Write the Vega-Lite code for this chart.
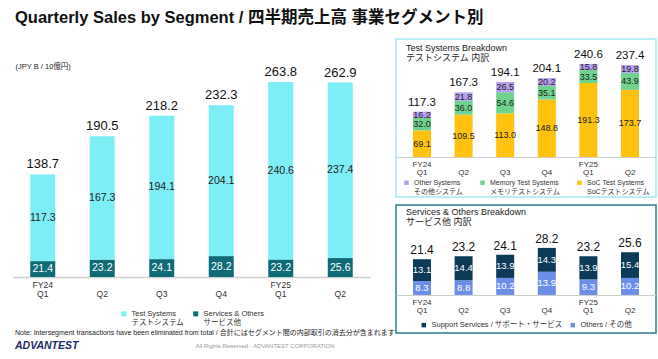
{
  "$schema": "https://vega.github.io/schema/vega-lite/v6.json",
  "padding": {"left": 13, "top": 9, "right": 2, "bottom": 2},
  "title": {"text": "Quarterly Sales by Segment / 四半期売上高 事業セグメント別", "anchor": "start", "fontSize": 16.5, "fontWeight": "bold", "color": "#111111", "offset": 12, "dx": 2},
  "datasets": {
    "main": [
      {"period": "FY24 Q1", "segment": "Test Systems", "value": 117.3},
      {"period": "FY24 Q2", "segment": "Test Systems", "value": 167.3},
      {"period": "FY24 Q3", "segment": "Test Systems", "value": 194.1},
      {"period": "FY24 Q4", "segment": "Test Systems", "value": 204.1},
      {"period": "FY25 Q1", "segment": "Test Systems", "value": 240.6},
      {"period": "FY25 Q2", "segment": "Test Systems", "value": 237.4},
      {"period": "FY24 Q1", "segment": "Services & Others", "value": 21.4},
      {"period": "FY24 Q2", "segment": "Services & Others", "value": 23.2},
      {"period": "FY24 Q3", "segment": "Services & Others", "value": 24.1},
      {"period": "FY24 Q4", "segment": "Services & Others", "value": 28.2},
      {"period": "FY25 Q1", "segment": "Services & Others", "value": 23.2},
      {"period": "FY25 Q2", "segment": "Services & Others", "value": 25.6}
    ],
    "mainTotal": [
      {"period": "FY24 Q1", "total": 138.7},
      {"period": "FY24 Q2", "total": 190.5},
      {"period": "FY24 Q3", "total": 218.2},
      {"period": "FY24 Q4", "total": 232.3},
      {"period": "FY25 Q1", "total": 263.8},
      {"period": "FY25 Q2", "total": 262.9}
    ],
    "test": [
      {"period": "FY24 Q1", "segment": "SoC Test Systems", "value": 69.1},
      {"period": "FY24 Q2", "segment": "SoC Test Systems", "value": 109.5},
      {"period": "FY24 Q3", "segment": "SoC Test Systems", "value": 113.0},
      {"period": "FY24 Q4", "segment": "SoC Test Systems", "value": 148.8},
      {"period": "FY25 Q1", "segment": "SoC Test Systems", "value": 191.3},
      {"period": "FY25 Q2", "segment": "SoC Test Systems", "value": 173.7},
      {"period": "FY24 Q1", "segment": "Memory Test Systems", "value": 32.0},
      {"period": "FY24 Q2", "segment": "Memory Test Systems", "value": 36.0},
      {"period": "FY24 Q3", "segment": "Memory Test Systems", "value": 54.6},
      {"period": "FY24 Q4", "segment": "Memory Test Systems", "value": 35.1},
      {"period": "FY25 Q1", "segment": "Memory Test Systems", "value": 33.5},
      {"period": "FY25 Q2", "segment": "Memory Test Systems", "value": 43.9},
      {"period": "FY24 Q1", "segment": "Other Systems", "value": 16.2},
      {"period": "FY24 Q2", "segment": "Other Systems", "value": 21.8},
      {"period": "FY24 Q3", "segment": "Other Systems", "value": 26.5},
      {"period": "FY24 Q4", "segment": "Other Systems", "value": 20.2},
      {"period": "FY25 Q1", "segment": "Other Systems", "value": 15.8},
      {"period": "FY25 Q2", "segment": "Other Systems", "value": 19.8}
    ],
    "svc": [
      {"period": "FY24 Q1", "segment": "Others / その他", "value": 8.3},
      {"period": "FY24 Q2", "segment": "Others / その他", "value": 8.8},
      {"period": "FY24 Q3", "segment": "Others / その他", "value": 10.2},
      {"period": "FY24 Q4", "segment": "Others / その他", "value": 13.9},
      {"period": "FY25 Q1", "segment": "Others / その他", "value": 9.3},
      {"period": "FY25 Q2", "segment": "Others / その他", "value": 10.2},
      {"period": "FY24 Q1", "segment": "Support Services / サポート・サービス", "value": 13.1},
      {"period": "FY24 Q2", "segment": "Support Services / サポート・サービス", "value": 14.4},
      {"period": "FY24 Q3", "segment": "Support Services / サポート・サービス", "value": 13.9},
      {"period": "FY24 Q4", "segment": "Support Services / サポート・サービス", "value": 14.3},
      {"period": "FY25 Q1", "segment": "Support Services / サポート・サービス", "value": 13.9},
      {"period": "FY25 Q2", "segment": "Support Services / サポート・サービス", "value": 15.4}
    ],
    "footer": [{"t": "All Rights Reserved - ADVANTEST CORPORATION"}]
  },
  "spacing": -6,
  "resolve": {"scale": {"color": "independent"}, "legend": {"color": "independent"}},
  "vconcat": [
    {
      "spacing": 25,
      "resolve": {"scale": {"color": "independent"}, "legend": {"color": "independent"}},
      "hconcat": [
        {
          "width": 357,
          "height": 238,
          "layer": [
            {
              "data": {"name": "main"},
              "transform": [
                {"calculate": "indexof(['Services & Others','Test Systems'], datum.segment)", "as": "rank"},
                {"stack": "value", "groupby": ["period"], "sort": [{"field": "rank", "order": "ascending"}], "as": ["v0", "v1"]},
                {"calculate": "(datum.v0 + datum.v1) / 2", "as": "mid"}
              ],
              "layer": [
                {
                  "mark": {"type": "bar"},
                  "encoding": {
                    "x": {"field": "period", "type": "nominal", "sort": ["FY24 Q1", "FY24 Q2", "FY24 Q3", "FY24 Q4", "FY25 Q1", "FY25 Q2"],
                      "scale": {"paddingInner": 0.58, "paddingOuter": 0.29},
                      "axis": {"title": null, "labelAngle": 0, "ticks": false, "domainColor": "#cfcfcf", "domainWidth": 1.5, "labelFontSize": 8.5, "labelColor": "#333333", "labelPadding": 3, "labelLineHeight": 9,
                        "labelExpr": "datum.value == 'FY24 Q1' ? ['FY24','Q1'] : datum.value == 'FY25 Q1' ? ['FY25','Q1'] : ['', slice(datum.value, 5)]"}},
                    "y": {"field": "v1", "type": "quantitative", "title": "(JPY B / 10億円)", "scale": {"domain": [0, 322], "nice": false},
                      "axis": {"title": "(JPY B / 10億円)", "labels": false, "ticks": false, "domain": false, "grid": false, "titleAngle": 0, "titleX": 2, "titleY": 27, "titleAlign": "left", "titleBaseline": "middle", "titleFontSize": 7.5, "titleFontWeight": "normal", "titleColor": "#222222"}},
                    "y2": {"field": "v0"},
                    "color": {"field": "segment", "type": "nominal",
                      "scale": {"domain": ["Test Systems", "Services & Others"], "range": ["#7DEEF6", "#0F6C77"]},
                      "legend": {"title": null, "orient": "bottom", "direction": "horizontal", "offset": 12, "symbolType": "square", "symbolSize": 25, "labelFont": "Liberation Sans Narrow, Liberation Sans, Noto Sans CJK JP, sans-serif", "labelFontSize": 7.5, "labelColor": "#333333", "columnPadding": 8, "labelLineHeight": 8,
                        "labelExpr": "datum.label == 'Test Systems' ? ['Test Systems','テストシステム'] : ['Services & Others','サービス他']"}}
                  }
                },
                {
                  "mark": {"type": "text", "fontSize": 10.5, "baseline": "middle"},
                  "encoding": {
                    "x": {"field": "period", "type": "nominal", "sort": ["FY24 Q1", "FY24 Q2", "FY24 Q3", "FY24 Q4", "FY25 Q1", "FY25 Q2"]},
                    "y": {"field": "mid", "type": "quantitative", "title": "(JPY B / 10億円)",
                      "axis": {"title": "(JPY B / 10億円)", "labels": false, "ticks": false, "domain": false, "grid": false, "titleAngle": 0, "titleX": 2, "titleY": 27, "titleAlign": "left", "titleBaseline": "middle", "titleFontSize": 7.5, "titleFontWeight": "normal", "titleColor": "#222222"}},
                    "text": {"field": "value", "type": "quantitative", "format": ".1f"},
                    "color": {"condition": {"test": "datum.segment == 'Services & Others'", "value": "#ffffff"}, "value": "#222222"}
                  }
                }
              ]
            },
            {
              "data": {"name": "mainTotal"},
              "mark": {"type": "text", "fontSize": 13, "baseline": "alphabetic", "dy": -6, "color": "#111111"},
              "encoding": {
                "x": {"field": "period", "type": "nominal", "sort": ["FY24 Q1", "FY24 Q2", "FY24 Q3", "FY24 Q4", "FY25 Q1", "FY25 Q2"]},
                "y": {"field": "total", "type": "quantitative", "title": "(JPY B / 10億円)",
                  "axis": {"title": "(JPY B / 10億円)", "labels": false, "ticks": false, "domain": false, "grid": false, "titleAngle": 0, "titleX": 2, "titleY": 27, "titleAlign": "left", "titleBaseline": "middle", "titleFontSize": 7.5, "titleFontWeight": "normal", "titleColor": "#222222"}},
                "text": {"field": "total", "type": "quantitative", "format": ".1f"}
              }
            }
          ]
        },
        {
          "spacing": 6,
          "resolve": {"scale": {"color": "independent"}, "legend": {"color": "independent"}},
          "vconcat": [
            {
              "width": 260,
              "height": 158,
              "view": {"stroke": "#A3E9EF", "strokeWidth": 1.5},
              "title": {"text": ["Test Systems Breakdown", "テストシステム 内訳"], "anchor": "start", "dx": 10, "offset": -24, "fontSize": 9, "fontWeight": "normal", "color": "#222222", "lineHeight": 10},
              "data": {"name": "test"},
              "transform": [
                {"calculate": "indexof(['SoC Test Systems','Memory Test Systems','Other Systems'], datum.segment)", "as": "rank"},
                {"stack": "value", "groupby": ["period"], "sort": [{"field": "rank", "order": "ascending"}], "as": ["v0", "v1"]},
                {"calculate": "(datum.v0 + datum.v1) / 2", "as": "mid"}
              ],
              "layer": [
                {
                  "mark": {"type": "bar"},
                  "encoding": {
                    "x": {"field": "period", "type": "nominal", "sort": ["FY24 Q1", "FY24 Q2", "FY24 Q3", "FY24 Q4", "FY25 Q1", "FY25 Q2"],
                      "scale": {"paddingInner": 0.567, "paddingOuter": 0.408},
                      "axis": {"title": null, "labelAngle": 0, "ticks": false, "offset": -40, "domainColor": "#cfcfcf", "labelFontSize": 8, "labelColor": "#333333", "labelPadding": 3, "labelLineHeight": 8.5,
                        "labelExpr": "datum.value == 'FY24 Q1' ? ['FY24','Q1'] : datum.value == 'FY25 Q1' ? ['FY25','Q1'] : ['', slice(datum.value, 5)]"}},
                    "y": {"field": "v1", "type": "quantitative", "scale": {"domain": [-103, 305], "nice": false, "zero": false}, "axis": null},
                    "y2": {"field": "v0"},
                    "color": {"field": "segment", "type": "nominal",
                      "scale": {"domain": ["Other Systems", "Memory Test Systems", "SoC Test Systems"], "range": ["#B7A0F2", "#6FD38E", "#FFC20E"]},
                      "legend": {"title": null, "orient": "bottom", "direction": "horizontal", "offset": -18, "symbolType": "square", "symbolSize": 20, "labelFont": "Liberation Sans Narrow, Liberation Sans, Noto Sans CJK JP, sans-serif", "labelFontSize": 7, "labelColor": "#333333", "columnPadding": 16, "labelLineHeight": 8,
                        "labelExpr": "datum.label == 'Other Systems' ? ['Other Systems','その他システム'] : datum.label == 'Memory Test Systems' ? ['Memory Test Systems','メモリテストシステム'] : ['SoC Test Systems','SoCテストシステム']"}}
                  }
                },
                {
                  "mark": {"type": "text", "fontSize": 9, "baseline": "middle", "color": "#222222"},
                  "encoding": {
                    "x": {"field": "period", "type": "nominal", "sort": ["FY24 Q1", "FY24 Q2", "FY24 Q3", "FY24 Q4", "FY25 Q1", "FY25 Q2"]},
                    "y": {"field": "mid", "type": "quantitative", "axis": null},
                    "text": {"field": "value", "type": "quantitative", "format": ".1f"}
                  }
                },
                {
                  "transform": [{"aggregate": [{"op": "sum", "field": "value", "as": "total"}], "groupby": ["period"]}],
                  "mark": {"type": "text", "fontSize": 11.5, "baseline": "alphabetic", "dy": -6, "color": "#111111"},
                  "encoding": {
                    "x": {"field": "period", "type": "nominal", "sort": ["FY24 Q1", "FY24 Q2", "FY24 Q3", "FY24 Q4", "FY25 Q1", "FY25 Q2"]},
                    "y": {"field": "total", "type": "quantitative", "axis": null},
                    "text": {"field": "total", "type": "quantitative", "format": ".1f"}
                  }
                }
              ]
            },
            {
              "width": 260,
              "height": 128,
              "view": {"stroke": "#2C8087", "strokeWidth": 1.5},
              "title": {"text": ["Services & Others Breakdown", "サービス他 内訳"], "anchor": "start", "dx": 10, "offset": -22, "fontSize": 9, "fontWeight": "normal", "color": "#222222", "lineHeight": 10},
              "data": {"name": "svc"},
              "transform": [
                {"calculate": "indexof(['Others / その他','Support Services / サポート・サービス'], datum.segment)", "as": "rank"},
                {"stack": "value", "groupby": ["period"], "sort": [{"field": "rank", "order": "ascending"}], "as": ["v0", "v1"]},
                {"calculate": "(datum.v0 + datum.v1) / 2", "as": "mid"}
              ],
              "layer": [
                {
                  "mark": {"type": "bar"},
                  "encoding": {
                    "x": {"field": "period", "type": "nominal", "sort": ["FY24 Q1", "FY24 Q2", "FY24 Q3", "FY24 Q4", "FY25 Q1", "FY25 Q2"],
                      "scale": {"paddingInner": 0.567, "paddingOuter": 0.408},
                      "axis": {"title": null, "labelAngle": 0, "ticks": false, "offset": -38, "domainColor": "#cfcfcf", "labelFontSize": 8, "labelColor": "#333333", "labelPadding": 3, "labelLineHeight": 8.5,
                        "labelExpr": "datum.value == 'FY24 Q1' ? ['FY24','Q1'] : datum.value == 'FY25 Q1' ? ['FY25','Q1'] : ['', slice(datum.value, 5)]"}},
                    "y": {"field": "v1", "type": "quantitative", "scale": {"domain": [-22.8, 53.9], "nice": false, "zero": false}, "axis": null},
                    "y2": {"field": "v0"},
                    "color": {"field": "segment", "type": "nominal",
                      "scale": {"domain": ["Support Services / サポート・サービス", "Others / その他"], "range": ["#0C3A57", "#6D8EE8"]},
                      "legend": {"title": null, "orient": "bottom", "direction": "horizontal", "offset": -12, "symbolType": "square", "symbolSize": 20, "labelFont": "Liberation Sans Narrow, Liberation Sans, Noto Sans CJK JP, sans-serif", "labelFontSize": 7.5, "labelColor": "#333333", "columnPadding": 6}}
                  }
                },
                {
                  "mark": {"type": "text", "fontSize": 9.5, "baseline": "middle", "color": "#ffffff"},
                  "encoding": {
                    "x": {"field": "period", "type": "nominal", "sort": ["FY24 Q1", "FY24 Q2", "FY24 Q3", "FY24 Q4", "FY25 Q1", "FY25 Q2"]},
                    "y": {"field": "mid", "type": "quantitative", "axis": null},
                    "text": {"field": "value", "type": "quantitative", "format": ".1f"}
                  }
                },
                {
                  "transform": [{"aggregate": [{"op": "sum", "field": "value", "as": "total"}], "groupby": ["period"]}],
                  "mark": {"type": "text", "fontSize": 12, "baseline": "alphabetic", "dy": -5, "color": "#111111"},
                  "encoding": {
                    "x": {"field": "period", "type": "nominal", "sort": ["FY24 Q1", "FY24 Q2", "FY24 Q3", "FY24 Q4", "FY25 Q1", "FY25 Q2"]},
                    "y": {"field": "total", "type": "quantitative", "axis": null},
                    "text": {"field": "total", "type": "quantitative", "format": ".1f"}
                  }
                }
              ]
            }
          ]
        }
      ]
    },
    {
      "width": 504,
      "height": 10,
      "data": {"name": "footer"},
      "title": {"text": "Note: Intersegment transactions have been eliminated from total / 合計にはセグメント間の内部取引の消去分が含まれます", "subtitle": "ADVANTEST", "anchor": "start", "orient": "top", "offset": -10, "dx": 2,
        "font": "Liberation Sans Narrow, Liberation Sans, Noto Sans CJK JP, sans-serif", "fontSize": 7, "fontWeight": "normal", "color": "#222222",
        "subtitleFont": "Liberation Sans, sans-serif", "subtitleFontSize": 10.5, "subtitleFontWeight": 900, "subtitleFontStyle": "italic", "subtitleColor": "#1B2A6B", "subtitlePadding": 5},
      "mark": {"type": "text", "fontSize": 6, "color": "#9a9a9a"},
      "encoding": {"text": {"field": "t", "type": "nominal"}}
    }
  ],
  "config": {
    "font": "Liberation Sans, Noto Sans CJK JP, sans-serif",
    "view": {"stroke": null},
    "axis": {"grid": false},
    "legend": {"layout": {"bottom": {"anchor": "middle"}}}
  }
}
